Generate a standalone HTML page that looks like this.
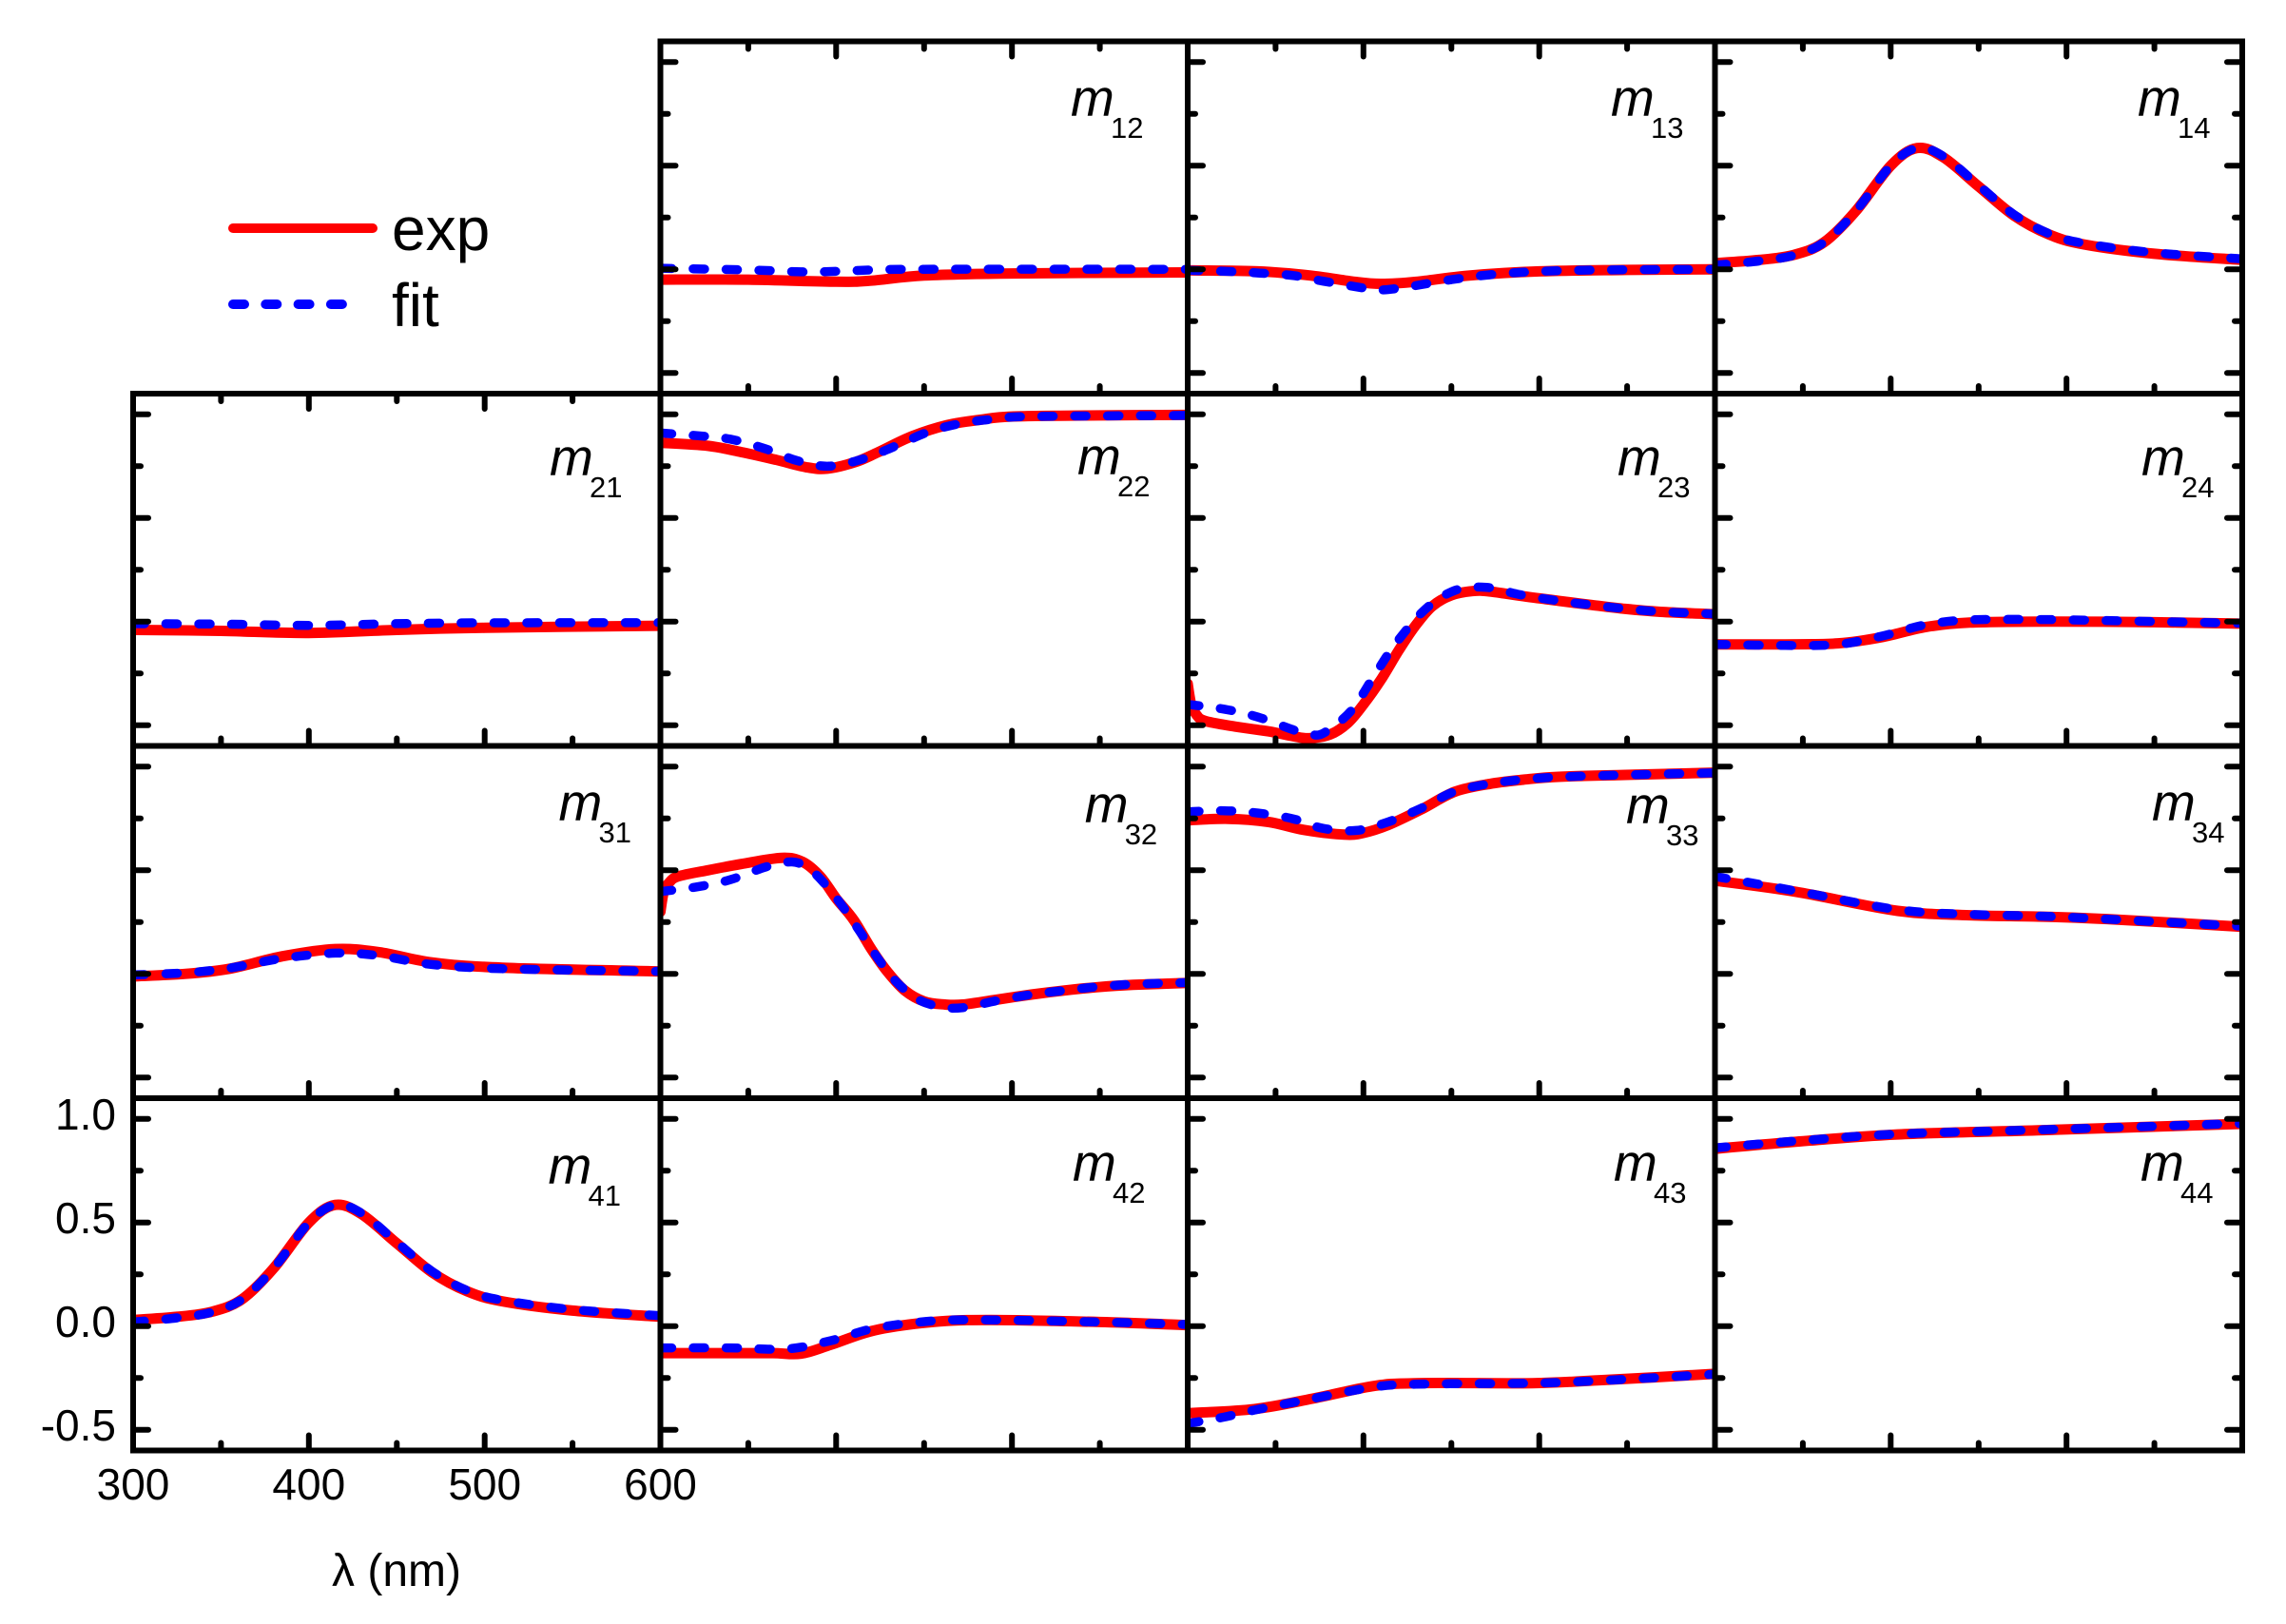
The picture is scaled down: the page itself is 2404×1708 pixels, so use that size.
<!DOCTYPE html>
<html>
<head>
<meta charset="utf-8">
<style>
html,body{margin:0;padding:0;background:#fff;}
svg{display:block}
</style>
</head>
<body>
<svg id="s" width="2404" height="1708" viewBox="0 0 2404 1708" font-family="'Liberation Sans', Arial, sans-serif">
<rect width="2404" height="1708" fill="#fff"/>
<defs id="defs"></defs>
<g id="curves"></g>
<g id="frames" stroke="#000" fill="none"></g>

<!-- legend -->
<line x1="245" y1="240" x2="392" y2="240" stroke="#ff0000" stroke-width="10" stroke-linecap="round"/>
<text x="412" y="263" font-size="64" fill="#000">exp</text>
<line x1="245" y1="320" x2="360" y2="320" stroke="#0000ff" stroke-width="10" stroke-linecap="round" stroke-dasharray="12 22.3"/>
<text x="412" y="343" font-size="64" fill="#000">fit</text>

<!-- y tick labels -->
<g font-size="46" fill="#000" text-anchor="end">
<text x="122" y="1188">1.0</text>
<text x="122" y="1297">0.5</text>
<text x="122" y="1406">0.0</text>
<text x="122" y="1515">-0.5</text>
</g>
<!-- x tick labels -->
<g font-size="46" fill="#000" text-anchor="middle">
<text x="140" y="1577">300</text>
<text x="324.8" y="1577">400</text>
<text x="509.7" y="1577">500</text>
<text x="694.5" y="1577">600</text>
</g>
<text x="417" y="1668" font-size="48" fill="#000" text-anchor="middle">λ (nm)</text>

<!-- panel labels -->
<g fill="#000">
<text x="1126" y="122" font-size="55" font-style="italic">m</text><text x="1168" y="145" font-size="31">12</text>
<text x="1694" y="122" font-size="55" font-style="italic">m</text><text x="1736" y="145" font-size="31">13</text>
<text x="2248" y="122" font-size="55" font-style="italic">m</text><text x="2290" y="145" font-size="31">14</text>

<text x="578" y="500" font-size="55" font-style="italic">m</text><text x="620" y="523" font-size="31">21</text>
<text x="1133" y="499" font-size="55" font-style="italic">m</text><text x="1175" y="522" font-size="31">22</text>
<text x="1701" y="500" font-size="55" font-style="italic">m</text><text x="1743" y="523" font-size="31">23</text>
<text x="2252" y="500" font-size="55" font-style="italic">m</text><text x="2294" y="523" font-size="31">24</text>

<text x="587.5" y="863" font-size="55" font-style="italic">m</text><text x="629.5" y="886" font-size="31">31</text>
<text x="1140.7" y="865" font-size="55" font-style="italic">m</text><text x="1182.7" y="888" font-size="31">32</text>
<text x="1710" y="866" font-size="55" font-style="italic">m</text><text x="1752" y="889" font-size="31">33</text>
<text x="2263" y="863" font-size="55" font-style="italic">m</text><text x="2305" y="886" font-size="31">34</text>

<text x="576.5" y="1245" font-size="55" font-style="italic">m</text><text x="618.5" y="1268" font-size="31">41</text>
<text x="1128" y="1242" font-size="55" font-style="italic">m</text><text x="1170" y="1265" font-size="31">42</text>
<text x="1697" y="1242" font-size="55" font-style="italic">m</text><text x="1739" y="1265" font-size="31">43</text>
<text x="2251" y="1242" font-size="55" font-style="italic">m</text><text x="2293" y="1265" font-size="31">44</text>
</g>
</svg>

<script>
(function(){
var L=[140,694.5,1249,1803.5],W=554.5,T=[43.5,414,784.5,1155],H=370.5,K=H/1.7;
var m41r=[[300,0.03],[325,0.045],[345,0.07],[362,0.13],[380,0.28],[400,0.50],[415,0.585],[430,0.54],[450,0.40],[470,0.26],[490,0.168],[510,0.12],[550,0.075],[600,0.045]];
var m41b=[[300,0.02],[325,0.04],[345,0.068],[362,0.13],[380,0.28],[400,0.50],[415,0.585],[430,0.545],[450,0.405],[470,0.265],[490,0.172],[510,0.125],[550,0.08],[600,0.05]];
var D={
'0,1':{r:[[300,-0.05],[350,-0.05],[400,-0.06],[420,-0.055],[450,-0.03],[500,-0.02],[600,-0.015]],
       b:[[300,0.005],[350,-0.003],[380,-0.012],[400,-0.01],[420,-0.003],[450,0.0],[600,0.0]]},
'0,2':{r:[[300,-0.005],[340,-0.01],[370,-0.03],[395,-0.06],[410,-0.07],[430,-0.06],[460,-0.03],[500,-0.01],[550,-0.003],[600,0.0]],
       b:[[300,-0.005],[322,-0.01],[341,-0.018],[360,-0.03],[377,-0.057],[400,-0.09],[410,-0.1],[425,-0.085],[450,-0.05],[480,-0.02],[520,-0.005],[600,0.0]]},
'0,3':{r:m41r,b:m41b},
'1,0':{r:[[300,-0.04],[350,-0.045],[400,-0.055],[450,-0.04],[500,-0.03],[600,-0.02]],
       b:[[300,-0.01],[350,-0.012],[400,-0.018],[450,-0.01],[500,-0.006],[600,-0.005]]},
'1,1':{r:[[300,0.863],[327,0.848],[346,0.818],[366,0.78],[383,0.745],[395,0.738],[411,0.77],[424,0.818],[443,0.894],[463,0.948],[482,0.974],[501,0.99],[550,0.995],[600,0.997]],
       b:[[300,0.91],[321,0.897],[340,0.88],[360,0.833],[378,0.776],[396,0.75],[416,0.787],[434,0.848],[453,0.917],[472,0.958],[491,0.978],[511,0.99],[600,0.995]]},
'1,2':{r:[[300,-0.30],[302,-0.40],[305,-0.45],[310,-0.48],[327,-0.507],[346,-0.53],[360,-0.553],[369,-0.563],[381,-0.545],[391,-0.49],[400,-0.40],[410,-0.28],[420,-0.14],[429,-0.026],[439,0.073],[450,0.127],[462,0.147],[472,0.145],[491,0.122],[511,0.10],[530,0.08],[549,0.061],[569,0.047],[600,0.035]],
       b:[[300,-0.40],[321,-0.423],[340,-0.461],[360,-0.522],[370,-0.545],[378,-0.535],[393,-0.43],[406,-0.263],[418,-0.11],[435,0.058],[452,0.15],[470,0.165],[489,0.13],[511,0.10],[530,0.08],[549,0.062],[569,0.048],[600,0.037]]},
'1,3':{r:[[300,-0.11],[340,-0.11],[370,-0.105],[395,-0.075],[420,-0.026],[445,-0.005],[487,0.0],[550,-0.003],[600,-0.01]],
       b:[[300,-0.11],[340,-0.115],[370,-0.11],[395,-0.07],[420,-0.015],[445,0.008],[487,0.01],[550,0.0],[600,-0.008]]},
'2,0':{r:[[300,-0.012],[330,0.0],[355,0.025],[385,0.085],[415,0.12],[440,0.105],[470,0.055],[510,0.03],[600,0.012]],
       b:[[300,-0.005],[330,0.005],[355,0.028],[385,0.075],[415,0.1],[440,0.088],[470,0.045],[510,0.025],[600,0.012]]},
'2,1':{r:[[300,0.30],[302,0.40],[305,0.44],[310,0.47],[327,0.50],[346,0.53],[369,0.56],[381,0.54],[391,0.47],[400,0.364],[410,0.26],[420,0.12],[429,0.012],[439,-0.08],[450,-0.133],[462,-0.148],[472,-0.148],[491,-0.125],[511,-0.10],[530,-0.08],[549,-0.064],[569,-0.053],[600,-0.044]],
       b:[[300,0.397],[321,0.42],[340,0.455],[360,0.516],[375,0.54],[385,0.505],[395,0.42],[405,0.31],[415,0.185],[425,0.06],[435,-0.045],[447,-0.125],[460,-0.16],[472,-0.163],[491,-0.13],[511,-0.10],[530,-0.08],[549,-0.062],[569,-0.05],[600,-0.042]]},
'2,2':{r:[[300,0.741],[323,0.748],[346,0.733],[366,0.695],[389,0.672],[400,0.68],[414,0.718],[433,0.794],[452,0.879],[472,0.917],[491,0.937],[511,0.951],[549,0.96],[600,0.971]],
       b:[[300,0.782],[321,0.787],[340,0.776],[360,0.748],[377,0.702],[396,0.692],[414,0.733],[433,0.80],[452,0.88],[472,0.918],[491,0.938],[511,0.95],[549,0.96],[600,0.97]]},
'2,3':{r:[[300,0.45],[346,0.396],[404,0.304],[445,0.283],[487,0.276],[528,0.262],[600,0.227]],
       b:[[300,0.47],[346,0.40],[404,0.31],[445,0.287],[487,0.278],[528,0.262],[600,0.23]]},
'3,0':{r:m41r,b:m41b},
'3,1':{r:[[300,-0.13],[340,-0.13],[364,-0.13],[380,-0.133],[397,-0.09],[422,-0.02],[455,0.02],[488,0.03],[550,0.02],[600,0.005]],
       b:[[300,-0.105],[340,-0.105],[372,-0.11],[397,-0.07],[422,-0.01],[455,0.025],[488,0.03],[550,0.02],[600,0.008]]},
'3,2':{r:[[300,-0.42],[338,-0.40],[371,-0.35],[405,-0.29],[430,-0.275],[496,-0.275],[537,-0.26],[600,-0.23]],
       b:[[300,-0.47],[320,-0.44],[338,-0.405],[371,-0.35],[405,-0.295],[430,-0.28],[496,-0.275],[537,-0.262],[600,-0.232]]},
'3,3':{r:[[300,0.856],[346,0.89],[404,0.925],[487,0.946],[600,0.976]],
       b:[[300,0.86],[346,0.893],[404,0.927],[487,0.948],[600,0.978]]}
};
function f(n){return n.toFixed(1);}
function pathD(r,c,pts){
  var P=pts.map(function(p){return [L[c]+(p[0]-300)/300*W, T[r]+(1.1-p[1])*K];});
  var d='M'+f(P[0][0])+','+f(P[0][1]);
  for(var i=0;i<P.length-1;i++){
    var p0=P[i-1]||P[i],p1=P[i],p2=P[i+1],p3=P[i+2]||P[i+1];
    var c1=[p1[0]+(p2[0]-p0[0])/6,p1[1]+(p2[1]-p0[1])/6];
    var c2=[p2[0]-(p3[0]-p1[0])/6,p2[1]-(p3[1]-p1[1])/6];
    d+=' C'+f(c1[0])+','+f(c1[1])+' '+f(c2[0])+','+f(c2[1])+' '+f(p2[0])+','+f(p2[1]);
  }
  return d;
}
var defs='',curves='',frames='';
var panels=[];
for(var c=1;c<4;c++)panels.push([0,c]);
for(var r=1;r<4;r++)for(var c2=0;c2<4;c2++)panels.push([r,c2]);
var yt=[[1.0,1],[0.75,0],[0.5,1],[0.25,0],[0,1],[-0.25,0],[-0.5,1]];
var xt=[[350,0],[400,1],[450,0],[500,1],[550,0]];
panels.forEach(function(pc){
  var r=pc[0],c=pc[1],key=r+','+c,x0=L[c],y0=T[r],x1=x0+W,y1=y0+H;
  var id='cp'+r+'_'+c;
  defs+='<clipPath id="'+id+'"><rect x="'+x0+'" y="'+y0+'" width="'+W+'" height="'+H+'"/></clipPath>';
  var dd=D[key];
  curves+='<g clip-path="url(#'+id+')" fill="none">'+
    '<path d="'+pathD(r,c,dd.r)+'" stroke="#ff0000" stroke-width="11" stroke-linecap="round" stroke-linejoin="round"/>'+
    '<path d="'+pathD(r,c,dd.b)+'" stroke="#0000ff" stroke-width="9.5" stroke-linecap="round" stroke-linejoin="round" stroke-dasharray="12 22.5"/>'+
    '</g>';
  frames+='<rect x="'+x0+'" y="'+y0+'" width="'+W+'" height="'+H+'" stroke-width="6"/>';
  yt.forEach(function(t){
    var y=y0+(1.1-t[0])*K,len=t[1]?16:8;
    frames+='<line x1="'+x0+'" y1="'+f(y)+'" x2="'+(x0+len)+'" y2="'+f(y)+'" stroke-width="6" stroke-linecap="round"/>';
    if(c===3){
      frames+='<line x1="'+x1+'" y1="'+f(y)+'" x2="'+(x1-len)+'" y2="'+f(y)+'" stroke-width="6" stroke-linecap="round"/>';
    }
  });
  xt.forEach(function(t){
    var x=x0+(t[0]-300)/300*W,len=t[1]?16:8;
    frames+='<line x1="'+f(x)+'" y1="'+y1+'" x2="'+f(x)+'" y2="'+(y1-len)+'" stroke-width="6" stroke-linecap="round"/>';
    if(r===0||(r===1&&c===0)){
      frames+='<line x1="'+f(x)+'" y1="'+y0+'" x2="'+f(x)+'" y2="'+(y0+len)+'" stroke-width="6" stroke-linecap="round"/>';
    }
  });
});
document.getElementById('defs').innerHTML=defs;
document.getElementById('curves').innerHTML=curves;
document.getElementById('frames').innerHTML=frames;
})();
</script>
</body>
</html>
